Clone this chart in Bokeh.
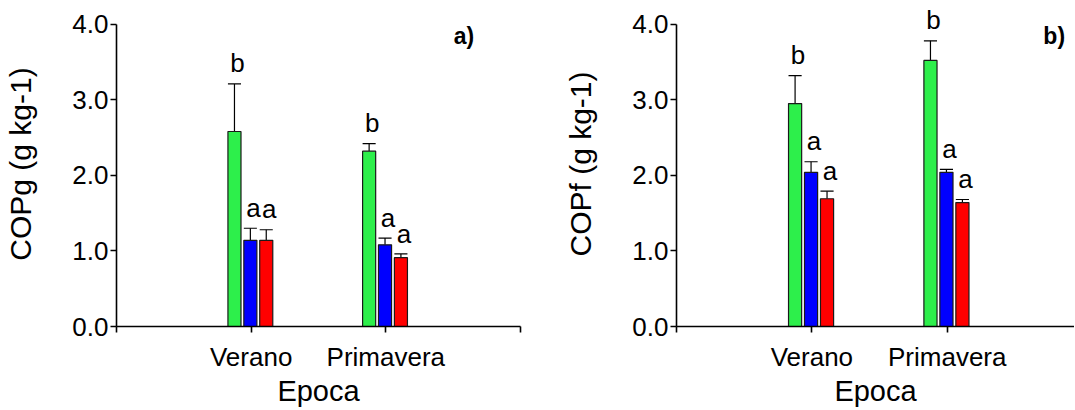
from bokeh.plotting import figure
from bokeh.layouts import row
from bokeh.models import Range1d, FixedTicker, PrintfTickFormatter, Label, ColumnDataSource
from bokeh.core.properties import value
from bokeh.embed import file_html
from bokeh.resources import INLINE

# ---------------- data ----------------
categories = ["Verano", "Primavera"]
x_tick_labels = ["", "Verano", "Primavera", ""]
y_ticks = [0.0, 1.0, 2.0, 3.0, 4.0]

# panel a) COPg
copg_green = [2.58, 2.32]
copg_green_err = [0.63, 0.10]
copg_blue = [1.14, 1.08]
copg_blue_err = [0.16, 0.09]
copg_red = [1.14, 0.91]
copg_red_err = [0.14, 0.05]
copg_letters_green = ["b", "b"]
copg_letters_blue = ["a", "a"]
copg_letters_red = ["a", "a"]

# panel b) COPf
copf_green = [2.95, 3.52]
copf_green_err = [0.37, 0.26]
copf_blue = [2.04, 2.04]
copf_blue_err = [0.14, 0.04]
copf_red = [1.69, 1.64]
copf_red_err = [0.10, 0.04]
copf_letters_green = ["b", "b"]
copf_letters_blue = ["a", "a"]
copf_letters_red = ["a", "a"]

# ---------------- style ----------------
FONT = "Liberation Sans"
COLORS = ["#2DEF4B", "#0000FF", "#FF0000"]
OFFSETS = [-0.124, -0.006, 0.112]
BAR_W = 0.097
LETTER_GAP = 0.27   # from error cap to letter centre, in y units
Y_TOP = 4.3         # room above the axis for the letters


def make_panel(series, errs, letters, ylabel, tag, tag_x, width, border_left, border_right, x_end):
    p = figure(width=width, height=409, output_backend="svg", toolbar_location=None,
               x_range=Range1d(0, x_end), y_range=Range1d(0, Y_TOP),
               min_border_left=border_left, min_border_right=border_right,
               min_border_top=1, min_border_bottom=80)
    p.outline_line_color = None
    p.xgrid.visible = False
    p.ygrid.visible = False
    p.background_fill_color = "white"
    p.border_fill_color = "white"

    for s, (vals, err, lets) in enumerate(zip(series, errs, letters)):
        xs = [i + 1 + OFFSETS[s] for i in range(len(categories))]
        tops = [v + e for v, e in zip(vals, err)]
        src = ColumnDataSource(dict(x=xs, top=vals, etop=tops, txt=lets,
                                    ty=[t + LETTER_GAP for t in tops],
                                    xl=[x - BAR_W / 2 for x in xs],
                                    xr=[x + BAR_W / 2 for x in xs]))
        p.segment(x0="x", y0="top", x1="x", y1="etop", source=src,
                  line_color="black", line_width=1.2)
        p.segment(x0="xl", y0="etop", x1="xr", y1="etop", source=src,
                  line_color="black", line_width=1.2)
        p.vbar(x="x", top="top", bottom=0, width=BAR_W, source=src,
               fill_color=COLORS[s], line_color="#1a1a1a", line_width=1.2)
        p.text(x="x", y="ty", text="txt", source=src, text_align="center",
               text_baseline="middle", x_offset=3,
               text_font=value(FONT), text_font_size="26px", text_color="black")

    # axes
    p.xaxis.ticker = FixedTicker(ticks=[0, 1, 2, 3])
    p.xaxis.major_label_overrides = {float(i): lab for i, lab in enumerate(x_tick_labels)}
    p.yaxis.ticker = FixedTicker(ticks=y_ticks)
    p.yaxis.formatter = PrintfTickFormatter(format="%.1f")
    p.yaxis.bounds = (0, 4)
    for ax in (p.xaxis[0], p.yaxis[0]):
        ax.axis_line_width = 1.6
        ax.axis_line_color = "black"
        ax.major_tick_line_width = 1.6
        ax.major_tick_line_color = "black"
        ax.major_tick_in = 0
        ax.major_tick_out = 6
        ax.minor_tick_line_color = None
        ax.major_label_text_font = FONT
        ax.major_label_text_font_size = "26px"
        ax.major_label_text_color = "black"
        ax.axis_label_text_font = FONT
        ax.axis_label_text_font_style = "normal"
        ax.axis_label_text_color = "black"
    p.yaxis.major_label_standoff = 2
    p.xaxis.major_label_standoff = 9
    p.yaxis.axis_label = ylabel
    p.yaxis.axis_label_text_font_size = "30px"
    p.yaxis.axis_label_standoff = 32
    p.xaxis.axis_label = "Epoca"
    p.xaxis.axis_label_text_font_size = "29px"
    p.xaxis.axis_label_standoff = 0

    p.add_layout(Label(x=tag_x, y=3.85, text=tag, text_align="center",
                       text_baseline="middle", text_font=FONT, text_font_size="23px",
                       text_font_style="bold", text_color="black"))
    return p


p1 = make_panel([copg_green, copg_blue, copg_red],
                [copg_green_err, copg_blue_err, copg_red_err],
                [copg_letters_green, copg_letters_blue, copg_letters_red],
                "COPg (g kg-1)", "a)", 2.58, 540, 116, 20, 3)
p2 = make_panel([copf_green, copf_blue, copf_red],
                [copf_green_err, copf_blue_err, copf_red_err],
                [copf_letters_green, copf_letters_blue, copf_letters_red],
                "COPf (g kg-1)", "b)", 2.79, 534, 136, 0, 2.94)

layout = row(p1, p2, spacing=0)
open("out.html", "w").write(file_html(layout, INLINE))
